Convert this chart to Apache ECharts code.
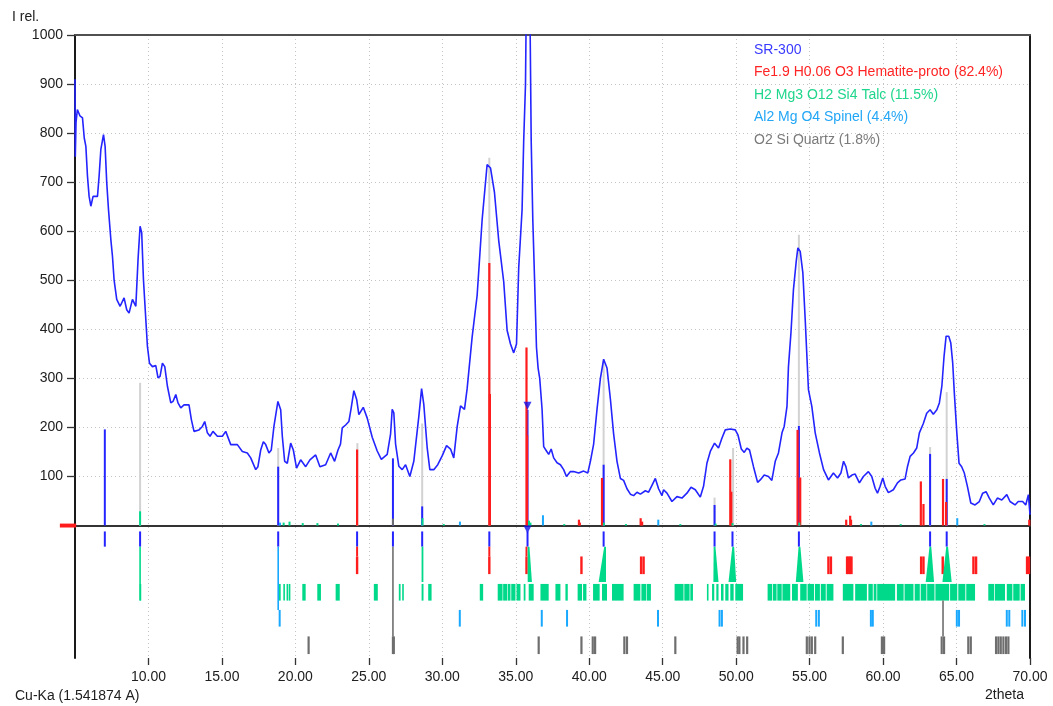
<!DOCTYPE html>
<html><head><meta charset="utf-8">
<script src="https://cdn.jsdelivr.net/npm/echarts@6/dist/echarts.min.js"></script>
<style>html,body{margin:0;padding:0;background:#fff}#c{width:1053px;height:706px}</style>
</head><body><div id="c"></div>
<script>
// ---------- DATA ----------
const xTicks = [10, 15, 20, 25, 30, 35, 40, 45, 50, 55, 60, 65, 70];
const legendNames = ['SR-300', 'Fe1.9 H0.06 O3 Hematite-proto (82.4%)', 'H2 Mg3 O12 Si4 Talc (11.5%)', 'Al2 Mg O4 Spinel (4.4%)', 'O2 Si Quartz (1.8%)'];

// measured pattern SR-300: [2theta, I rel.]
const sr300 = [
[5.00,910],[5.02,752],[5.07,822],[5.16,848],[5.34,835],[5.51,831],[5.63,790],[5.74,773],[5.85,712],[5.96,671],[6.08,651],[6.23,671],[6.53,671],[6.64,712],[6.76,767],[6.94,797],[7.05,773],[7.16,699],[7.28,644],[7.44,583],[7.55,549],[7.66,501],[7.84,461],[8.07,447],[8.34,464],[8.52,440],[8.68,433],[8.91,461],[9.14,447],[9.29,542],[9.43,610],[9.54,597],[9.66,501],[9.82,420],[9.93,365],[10.07,331],[10.27,324],[10.50,326],[10.65,301],[10.79,304],[10.95,331],[11.11,324],[11.29,284],[11.52,250],[11.67,253],[11.86,267],[12.01,250],[12.20,240],[12.42,246],[12.76,246],[12.92,216],[13.10,192],[13.44,195],[13.67,202],[13.83,212],[14.01,189],[14.19,182],[14.39,192],[14.69,182],[15.03,182],[15.26,192],[15.60,165],[16.05,165],[16.39,151],[16.73,148],[16.96,138],[17.30,114],[17.45,120],[17.64,154],[17.82,171],[17.98,165],[18.20,148],[18.36,154],[18.54,202],[18.81,253],[19.00,236],[19.11,182],[19.27,131],[19.45,127],[19.68,168],[19.86,154],[20.08,117],[20.36,134],[20.70,120],[20.99,134],[21.38,144],[21.67,120],[22.06,124],[22.40,148],[22.67,131],[22.90,154],[23.07,166],[23.19,199],[23.42,205],[23.64,212],[23.80,240],[23.98,275],[24.17,257],[24.32,226],[24.62,241],[24.89,219],[25.23,180],[25.57,152],[25.85,135],[26.25,145],[26.48,187],[26.59,237],[26.70,230],[26.82,166],[27.04,121],[27.27,114],[27.50,124],[27.79,100],[28.06,131],[28.40,222],[28.59,279],[28.74,247],[28.97,159],[29.15,114],[29.42,114],[29.69,124],[29.99,142],[30.29,163],[30.56,156],[30.78,138],[31.01,201],[31.24,244],[31.51,237],[31.69,279],[32.03,384],[32.37,469],[32.71,623],[33.05,736],[33.28,729],[33.55,679],[33.84,581],[34.18,497],[34.41,398],[34.64,370],[34.86,352],[35.05,370],[35.20,525],[35.43,644],[35.54,785],[35.66,897],[35.73,1100],[35.95,1100],[36.05,785],[36.16,623],[36.27,511],[36.41,363],[36.52,321],[36.63,300],[36.79,237],[36.90,161],[37.09,152],[37.24,145],[37.41,156],[37.58,138],[37.81,128],[38.04,124],[38.26,114],[38.45,100],[38.72,110],[38.94,110],[39.28,107],[39.62,111],[39.90,107],[40.08,131],[40.30,166],[40.53,237],[40.76,300],[40.98,339],[41.21,321],[41.44,258],[41.66,187],[41.89,131],[42.12,96],[42.34,92],[42.57,75],[42.80,64],[43.02,61],[43.25,68],[43.48,64],[43.82,71],[44.04,68],[44.27,82],[44.50,96],[44.72,75],[44.95,61],[45.06,73],[45.29,66],[45.63,49],[45.97,59],[46.31,56],[46.65,66],[46.93,78],[47.22,73],[47.56,58],[47.78,80],[48.01,127],[48.24,151],[48.53,168],[48.80,158],[49.03,178],[49.26,195],[49.60,197],[49.94,195],[50.12,185],[50.35,156],[50.55,149],[50.73,158],[50.91,154],[51.18,120],[51.46,88],[51.64,93],[51.91,103],[52.20,100],[52.43,92],[52.66,131],[52.88,148],[53.12,189],[53.27,202],[53.46,243],[53.56,324],[53.73,393],[53.90,481],[54.09,539],[54.20,566],[54.36,559],[54.54,515],[54.70,420],[54.92,277],[55.15,243],[55.38,189],[55.67,148],[55.95,114],[56.28,93],[56.62,107],[56.90,97],[57.13,107],[57.31,131],[57.47,120],[57.64,97],[57.88,103],[58.10,105],[58.39,87],[58.66,100],[59.00,110],[59.23,100],[59.46,76],[59.62,66],[59.80,80],[59.98,97],[60.14,80],[60.36,67],[60.70,73],[60.98,87],[61.21,93],[61.50,95],[61.66,120],[61.84,141],[62.07,148],[62.29,158],[62.47,189],[62.74,208],[62.97,229],[63.20,236],[63.42,227],[63.66,236],[63.83,250],[64.00,284],[64.15,345],[64.29,386],[64.47,386],[64.61,372],[64.74,331],[64.85,270],[65.02,189],[65.17,127],[65.35,120],[65.53,107],[65.74,80],[65.97,46],[66.26,42],[66.55,49],[66.78,66],[67.01,69],[67.23,56],[67.50,42],[67.78,56],[68.08,52],[68.42,63],[68.64,49],[68.98,42],[69.20,49],[69.50,49],[69.71,42],[69.89,63],[70.00,22]
];

// sticks above the zero line: [2theta, height]
const calcGray   = [[9.43,291],[18.83,158],[24.22,168],[28.63,208],[33.20,750],[40.98,335],[48.53,57],[49.79,158],[54.27,593],[63.20,160],[64.33,272]];
const peakBlue   = [[7.03,196],[18.83,120],[26.64,137],[28.63,39],[35.80,236],[40.98,124],[48.53,42],[54.27,203],[63.20,146],[64.33,95]];
const hematiteUp = [[24.20,155],[33.20,535],[33.24,268],[35.73,363],[35.77,184],[39.30,12],[39.36,6],[40.87,97],[43.50,15],[43.60,8],[49.60,135],[49.67,69],[54.18,195],[54.36,98],[57.49,12],[57.76,20],[57.82,12],[62.57,90],[62.75,44],[64.08,95],[64.29,48],[69.95,12]];
const talcUp     = [[9.43,29],[19.20,6],[19.60,8],[20.50,5],[21.50,5],[22.90,4],[28.65,15],[30.10,3],[35.90,10],[36.00,6],[38.30,3],[41.00,6],[42.50,3],[46.20,3],[48.60,4],[49.75,5],[54.30,6],[58.50,3],[61.20,3],[66.90,3]];
const spinelUp   = [[18.95,6],[31.20,8],[36.85,21],[44.70,12],[59.20,8],[65.05,15]];
const quartzUp   = [[26.64,14]];

// stick rows below the zero line (2theta positions)
const peakRow     = [7.03, 9.43, 18.83, 24.20, 26.64, 28.63, 33.20, 35.80, 40.98, 48.53, 49.75, 54.27, 63.20, 64.33];
const hematiteRow = [24.20, 33.20, 35.73, 39.47, 43.53, 43.70, 56.28, 56.45, 57.55, 57.65, 57.75, 57.85, 62.59, 62.75, 64.06, 66.15, 66.33, 69.80, 69.93];
const spinelRow   = [18.93, 31.19, 36.77, 38.49, 44.68, 48.87, 49.03, 55.45, 55.63, 59.17, 59.30, 65.02, 65.17, 68.42, 68.59, 69.48, 69.66];
const quartzRow   = [20.90, 26.64, 26.70, 36.56, 39.47, 40.24, 40.40, 42.39, 42.57, 45.86, 50.10, 50.22, 50.50, 50.75, 54.81, 54.99, 55.15, 55.38, 57.26, 59.92, 60.07, 63.99, 64.15, 65.80, 65.97, 67.69, 67.85, 68.01, 68.19, 68.37, 68.53];
// talc row: [from, to]
const talcRow = [[9.40,9.47],[18.88,19.00],[19.18,19.27],[19.40,19.50],[19.55,19.65],[20.47,20.70],[21.49,21.74],[22.74,23.02],[25.34,25.61],[27.04,27.16],[27.27,27.38],[28.59,28.72],[29.04,29.27],[32.55,32.78],[33.77,34.10],[34.14,34.41],[34.45,34.64],[34.69,34.98],[35.05,35.32],[35.54,35.66],[35.88,36.22],[36.68,37.24],[37.70,38.04],[38.38,38.54],[39.21,39.51],[39.58,39.81],[40.26,40.71],[40.87,41.21],[41.55,42.34],[43.02,43.48],[43.55,43.89],[43.93,44.20],[45.81,46.42],[46.47,46.83],[46.88,47.06],[48.01,48.12],[48.36,48.51],[48.65,48.80],[48.97,49.14],[49.26,49.48],[49.60,49.83],[49.94,50.47],[52.14,52.45],[52.50,52.75],[52.80,53.10],[53.15,53.68],[53.80,54.20],[54.36,54.80],[54.86,55.30],[55.36,55.70],[55.76,56.10],[56.16,56.62],[57.26,57.98],[58.10,58.90],[59.00,59.30],[59.36,59.55],[59.60,60.82],[60.94,61.40],[61.46,62.07],[62.15,62.50],[62.56,62.95],[63.00,63.50],[63.56,64.50],[64.56,65.05],[65.12,65.60],[65.66,66.26],[67.16,67.55],[67.60,68.30],[68.42,68.80],[68.86,69.30],[69.36,69.66]];
// talc peak profiles: [peak, left foot, right foot]
const talcProfiles = [[28.63,28.60,28.70],[35.85,35.82,36.10],[41.06,40.64,41.10],[48.51,48.45,48.80],[49.78,49.48,50.00],[54.29,54.06,54.58],[63.20,62.90,63.47],[64.34,64.04,64.67]];
// connecting lines between rows: [2theta, from, to]
const hematiteLinks = [[24.20,-43,-63],[33.20,-43,-63],[35.73,-43,-63]];
const talcLinks     = [[9.43,-43,-153]];
const spinelLinks   = [[18.83,-43,-172]];
const quartzLinks   = [[26.64,-43,-226],[64.08,-153,-226]];
const peakMarkers   = [[35.80,244],[35.80,-8]];
const offsetBar     = [[3.97,5.08,-4,4]];

// ---------- STYLE / BUILD ----------
const C = {blue:'#2424ff', red:'#ff1c1c', talc:'#00d98a', spinel:'#18a8ff', quartz:'#6e6e6e', calc:'#d2d2d2'};
const ROW = {peak:[-12,-43], hem:[-63,-99], talc:[-119,-153], spinel:[-172,-206], quartz:[-226,-262], profileBottom:-115};
const FONT = "'Liberation Sans', Arial, sans-serif";

function sticks(name, color, width, data, z) {
  return {type:'custom', name, xAxisIndex:0, yAxisIndex:0, silent:true, z: z||2,
    data, encode:{x:0, y:[1,2]},
    renderItem(params, api) {
      const a = api.coord([api.value(0), api.value(1)]);
      const b = api.coord([api.value(0), api.value(2)]);
      return {type:'rect', shape:{x:a[0]-width/2, y:Math.min(a[1],b[1]), width, height:Math.max(1,Math.abs(b[1]-a[1]))}, style:{fill:color}};
    }};
}
function ranges(name, color, data, clip, z) {
  return {type:'custom', name, xAxisIndex:0, yAxisIndex:0, silent:true, clip:!!clip, z: z||2,
    data, encode:{x:[0,1], y:[2,3]},
    renderItem(params, api) {
      const a = api.coord([api.value(0), api.value(2)]);
      const b = api.coord([api.value(1), api.value(3)]);
      return {type:'rect', shape:{x:Math.min(a[0],b[0]), y:Math.min(a[1],b[1]), width:Math.max(1.6,Math.abs(b[0]-a[0])), height:Math.abs(b[1]-a[1])}, style:{fill:color}};
    }};
}
function profiles(name, color, data) {
  return {type:'custom', name, xAxisIndex:0, yAxisIndex:0, silent:true,
    data, encode:{x:[0,1,2], y:[3,4]},
    renderItem(params, api) {
      const t = api.coord([api.value(0), api.value(3)]);
      const l = api.coord([api.value(1), api.value(4)]);
      const r = api.coord([api.value(2), api.value(4)]);
      const t2 = [t[0]+1.2, t[1]];
      return {type:'polygon', shape:{points:[[t[0]-0.6,t[1]], t2, [Math.max(r[0],t2[0]),r[1]], [Math.min(l[0],t[0]-0.6),l[1]]]}, style:{fill:color}};
    }};
}
const up = arr => arr.map(([x,h]) => [x, 0, h]);
const row = (arr, r) => arr.map(x => [x, r[0], r[1]]);

const series = [
  ranges(legendNames[1], C.red, offsetBar, false, 1),
  sticks(legendNames[0], C.calc, 2, up(calcGray)),
  sticks(legendNames[0], C.blue, 2, up(peakBlue)),
  sticks(legendNames[1], C.red, 2.2, up(hematiteUp)),
  sticks(legendNames[2], C.talc, 2, up(talcUp)),
  sticks(legendNames[3], C.spinel, 2, up(spinelUp)),
  sticks(legendNames[4], C.quartz, 2, up(quartzUp)),
  sticks(legendNames[0], C.blue, 2, row(peakRow, ROW.peak)),
  sticks(legendNames[1], C.red, 2, hematiteLinks),
  sticks(legendNames[1], C.red, 2.4, row(hematiteRow, ROW.hem)),
  sticks(legendNames[2], C.talc, 1.6, talcLinks),
  profiles(legendNames[2], C.talc, talcProfiles.map(p => [p[0], p[1], p[2], ROW.peak[1], ROW.profileBottom])),
  ranges(legendNames[2], C.talc, talcRow.map(r => [r[0], r[1], ROW.talc[0], ROW.talc[1]]), true),
  sticks(legendNames[3], C.spinel, 1.6, spinelLinks),
  sticks(legendNames[3], C.spinel, 2, row(spinelRow, ROW.spinel)),
  sticks(legendNames[4], C.quartz, 1.6, quartzLinks),
  sticks(legendNames[4], C.quartz, 2.2, row(quartzRow, ROW.quartz)),
  {type:'line', name:legendNames[0], xAxisIndex:0, yAxisIndex:0, data:sr300, showSymbol:false, symbol:'none',
   lineStyle:{color:C.blue, width:1.6}, clip:true, silent:true, z:5, animation:false},
  {type:'scatter', name:legendNames[0], xAxisIndex:0, yAxisIndex:0, data:peakMarkers, symbol:'triangle', symbolRotate:180,
   symbolSize:[8,8], itemStyle:{color:'#1010ee'}, silent:true, z:6}
];

const labelStyle = {color:'#202020', fontSize:14, fontFamily:FONT};
const chart = echarts.init(document.getElementById('c'), null, {renderer:'canvas'});
chart.setOption({
  animation:false,
  backgroundColor:'#ffffff',
  textStyle:{fontFamily:FONT},
  grid:[
    {left:75, right:23, top:35, bottom:48},
    {left:75, right:23, top:35, bottom:180.3}
  ],
  xAxis:[
    {type:'value', gridIndex:0, min:5, max:70, interval:5, position:'bottom',
     axisLine:{show:false, onZero:false}, axisTick:{show:true, length:7, lineStyle:{color:'#333', width:1.3}, customValues:xTicks},
     axisLabel:{...labelStyle, margin:12, customValues:xTicks, formatter:v => v.toFixed(2)},
     splitLine:{show:true, lineStyle:{color:'#c4c4c4', type:[1,3], width:1}}},
    {type:'value', gridIndex:0, min:5, max:70, position:'top',
     axisLine:{show:true, onZero:false, lineStyle:{color:'#505050', width:2}}, axisTick:{show:false}, axisLabel:{show:false}, splitLine:{show:false}},
    {type:'value', gridIndex:1, min:5, max:70, position:'bottom',
     axisLine:{show:true, onZero:false, lineStyle:{color:'#333', width:2}}, axisTick:{show:false}, axisLabel:{show:false}, splitLine:{show:false}}
  ],
  yAxis:[
    {type:'value', gridIndex:0, min:-270, max:1000, position:'left',
     axisLine:{show:true, onZero:false, lineStyle:{color:'#1a1a1a', width:2}}, axisTick:{show:false}, axisLabel:{show:false}, splitLine:{show:false}},
    {type:'value', gridIndex:0, min:-270, max:1000, position:'right',
     axisLine:{show:true, onZero:false, lineStyle:{color:'#1a1a1a', width:2}}, axisTick:{show:false}, axisLabel:{show:false}, splitLine:{show:false}},
    {type:'value', gridIndex:1, min:0, max:1000, interval:100, position:'left',
     axisLine:{show:false, onZero:false}, axisTick:{show:true, length:8, lineStyle:{color:'#333', width:1.3}},
     axisLabel:{...labelStyle, margin:12, formatter:v => v === 0 ? '' : String(v)},
     splitLine:{show:true, lineStyle:{color:'#c4c4c4', type:[1,3], width:1}}}
  ],
  legend:{
    show:true, orient:'vertical', left:744, top:38, icon:'none', itemWidth:0, itemHeight:14, itemGap:8.5,
    selectedMode:false,
    textStyle:{fontSize:14, fontFamily:FONT},
    data:[
      {name:legendNames[0], textStyle:{color:'#3a3aff'}},
      {name:legendNames[1], textStyle:{color:'#ff2424'}},
      {name:legendNames[2], textStyle:{color:'#1fd68c'}},
      {name:legendNames[3], textStyle:{color:'#22a6f6'}},
      {name:legendNames[4], textStyle:{color:'#7a7a7a'}}
    ]
  },
  graphic:[
    {type:'text', left:12, top:10, style:{text:'I rel.', fill:'#202020', font:"14px 'Liberation Sans', Arial"}},
    {type:'text', left:15, top:689, style:{text:'Cu-Ka (1.541874 A)', fill:'#202020', font:"14px 'Liberation Sans', Arial"}},
    {type:'text', left:985, top:688, style:{text:'2theta', fill:'#202020', font:"14px 'Liberation Sans', Arial"}}
  ],
  series
});
</script></body></html>
